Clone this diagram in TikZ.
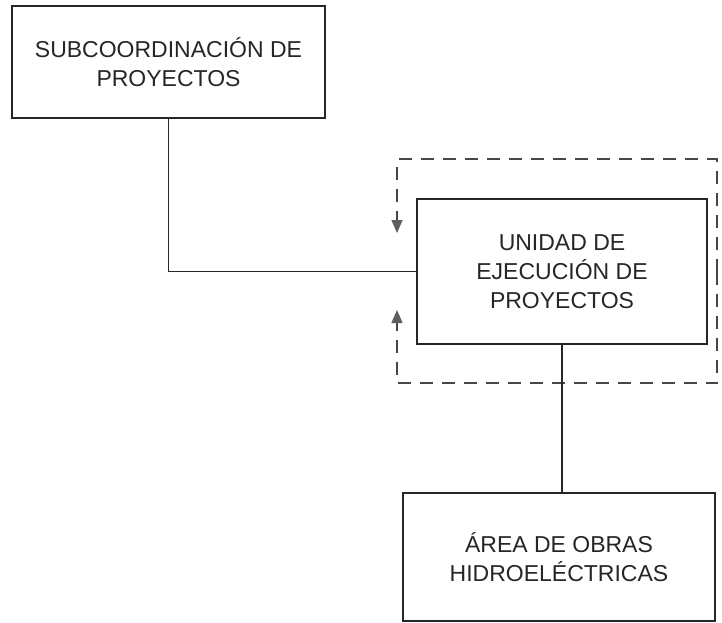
\documentclass[tikz,border=0pt]{standalone}
\usepackage{fontspec}
\setmainfont{Liberation Sans}
\usepackage{xcolor}
\usetikzlibrary{arrows.meta,positioning}

\definecolor{linea}{HTML}{262626}
\definecolor{punta}{HTML}{5E5E5E}

\tikzset{
    caja/.style={rectangle, draw=linea, line width=1.5pt, fill=white, align=center,
        text=linea, font=\fontsize{23}{29}\selectfont},
    enlace/.style={draw=linea, line width=1.4pt},
    retro/.style={draw=linea!85, line width=1.4pt, dash pattern=on 13pt off 9pt,
        -{Triangle[length=13pt,width=11pt,color=punta]}}
}

\begin{document}
\begin{tikzpicture}[x=1pt,y=-1pt]
    \useasboundingbox (0,0) rectangle (722,623);

    % cajas
    \node[caja, minimum width=313pt, minimum height=112pt] (subcoord) at (168.5,62) {SUBCOORDINACIÓN DE\\PROYECTOS};
    \node[caja, minimum width=290pt, minimum height=145pt] (unidad) at (562,271.5) {UNIDAD DE\\EJECUCIÓN DE\\PROYECTOS};
    \node[caja, minimum width=312pt, minimum height=128pt] (area) at (559,557) {ÁREA DE OBRAS\\HIDROELÉCTRICAS};

    % lazo punteado
    \coordinate (lazo) at (717,271.5);
    \coordinate (arriba) at (397,233);
    \coordinate (abajo) at (397,310);
    \draw[retro] (lazo) -- (717,159) -| (arriba);
    \draw[retro] (lazo) -- (717,383) -| (abajo);

    % conexiones
    \draw[enlace] (subcoord.south) |- (unidad.west);
    \draw[enlace] (unidad.south) -- (unidad.south |- area.north);
\end{tikzpicture}
\end{document}
